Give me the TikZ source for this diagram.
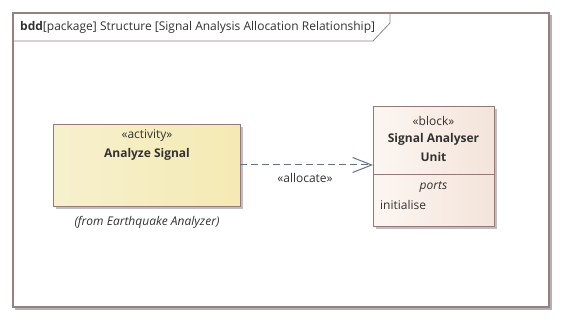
\documentclass[tikz,border=0pt]{standalone}
\usepackage{fontspec}
\setmainfont{Open Sans}
\usetikzlibrary{arrows.meta,shadows}
\definecolor{frameC}{RGB}{150,128,128}
\definecolor{boxC}{RGB}{150,120,120}
\definecolor{actL}{RGB}{246,240,205}
\definecolor{actR}{RGB}{245,234,180}
\definecolor{blkL}{RGB}{252,246,241}
\definecolor{blkR}{RGB}{244,228,218}
\definecolor{arrC}{RGB}{105,112,140}
\definecolor{txtC}{RGB}{50,50,50}
\tikzset{
  box/.style={draw=boxC, line width=0.8pt, inner sep=0pt, anchor=north west,
    drop shadow={shadow xshift=3pt, shadow yshift=-3pt, fill=black!25, opacity=1}},
  lbl/.style={font=\fontsize{12}{14}\selectfont, text=txtC, inner sep=0pt},
  lblb/.style={lbl, font=\fontsize{12}{14}\selectfont\bfseries},
  lbli/.style={lbl, font=\fontsize{12}{14}\selectfont\itshape},
}
\begin{document}
\begin{tikzpicture}[x=1pt,y=-1pt]
\useasboundingbox (0,0) rectangle (564,323);
% frame
\draw[black!30, line width=1.5pt] (15.5,15.5) rectangle (551,309);
\draw[frameC, line width=1.2pt, fill=white] (13,13) rectangle (549,307);
\draw[frameC, line width=0.8pt] (13,41) -- (373,41) -- (390,23) -- (390,13);
\node[lbl, anchor=west] (title) at (20,27) {\textbf{bdd}[package] Structure [Signal Analysis Allocation Relationship]};
% activity
\node[box, minimum width=187pt, minimum height=82pt, left color=actL, right color=actR] (act) at (53,124) {};
\node[lbl] (actst) at (147,136) {«activity»};
\node[lblb] (actnm) at (147,154) {Analyze Signal};
\node[lbli] (from) at (147,222) {(from Earthquake Analyzer)};
% block
\node[box, minimum width=121pt, minimum height=120pt, left color=blkL, right color=blkR] (blk) at (373,106) {};
\draw[boxC, line width=0.8pt] (373,174) -- (494,174);
\node[lbl] (blkst) at (433.5,121) {«block»};
\node[lblb] (blknm1) at (433.5,139) {Signal Analyser};
\node[lblb] (blknm2) at (433.5,157) {Unit};
\node[lbli] (ports) at (433.5,187) {ports};
\node[lbl, anchor=west] (init) at (380,205) {initialise};
% allocate
\coordinate (a1) at (240,165);
\coordinate (a2) at (373,165);
\draw[arrC, line width=1pt, dash pattern=on 7pt off 4pt, -{Straight Barb[length=19pt,width=15pt,line width=1pt]}] (a1) -- (a2);
\node[lbl] (alloc) at (305,178) {«allocate»};
\end{tikzpicture}
\end{document}
